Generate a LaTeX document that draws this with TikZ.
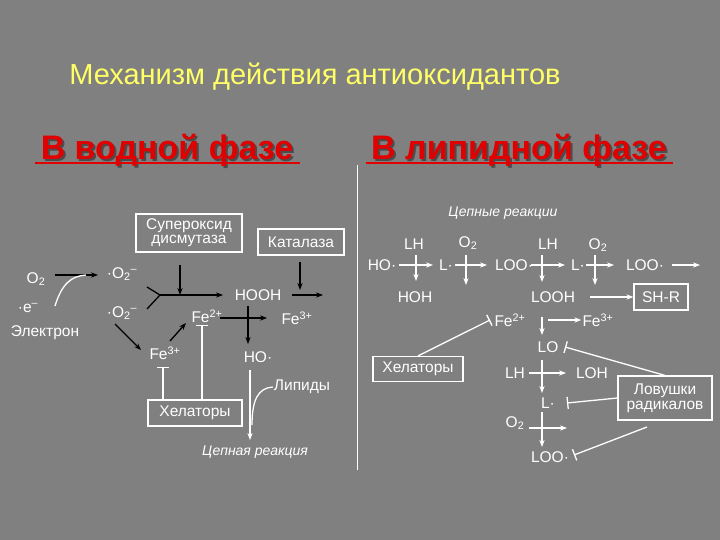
\documentclass[tikz,border=0pt]{standalone}
\usepackage{fontspec}
\setmainfont{Liberation Sans}
\usetikzlibrary{arrows.meta}
\definecolor{bg}{HTML}{808080}
\definecolor{ttl}{HTML}{FFFF66}
\definecolor{hdr}{HTML}{E00000}
\begin{document}
\begin{tikzpicture}[x=1pt,y=-1pt,
 lab/.style={text=white,font=\fontsize{15.5}{17}\selectfont,inner sep=1pt},
 box/.style={draw=white,line width=1.2pt,text=white,font=\fontsize{15.5}{17}\selectfont,align=center,inner sep=2pt},
 blk/.style={black,line width=1.3pt,-{Stealth[length=7pt]}},
 wht/.style={white,line width=1.3pt,-{Stealth[length=7pt]}},
 wl/.style={white,line width=1.3pt},
 bar/.style={white,line width=1.3pt,{Bar[width=12pt]}-},
 hd/.style={font=\bfseries\fontsize{34}{36}\selectfont,inner sep=0pt}]
\fill[bg] (0,0) rectangle (720,540);
\useasboundingbox (0,0) rectangle (720,540);
\node[text=ttl,font=\fontsize{29}{31}\selectfont] (title) at (315,77) {Механизм действия антиоксидантов};
\node[hd,text=black!70] at (169,152) {В водной фазе};
\node[hd,text=hdr] (h1) at (167,150) {В водной фазе};
\draw[hdr,line width=1.5pt] (35,163) -- (300,163);
\node[hd,text=black!70] at (521,152) {В липидной фазе};
\node[hd,text=hdr] (h2) at (519,150) {В липидной фазе};
\draw[hdr,line width=1.5pt] (366,163) -- (673,163);
\coordinate (v1) at (357,165); \coordinate (v2) at (357,470);
\draw[white,line width=1pt] (v1) -- (v2);
% left
\node[box,minimum width=106pt,minimum height=38pt] (sod) at (189,233) {Супероксид\\[-3pt]дисмутаза};
\node[box,minimum width=86pt,minimum height=26pt] (cat) at (301,242) {Каталаза};
\node[lab] (o2) at (36,279) {O\textsubscript{2}};
\node[lab] (e) at (28,308) {·e\textsuperscript{–}};
\node[lab] (el) at (45,333) {Электрон};
\node[lab] (s1) at (122,274) {·O\textsubscript{2}\textsuperscript{–}};
\node[lab] (s2) at (122,313) {·O\textsubscript{2}\textsuperscript{–}};
\node[lab] (hooh) at (258,295) {HOOH};
\node[lab] (fe2) at (207,316) {Fe\textsuperscript{2+}};
\node[lab] (fe3r) at (297,318) {Fe\textsuperscript{3+}};
\node[lab] (fe3) at (165,353) {Fe\textsuperscript{3+}};
\node[lab] (ho) at (258,357) {HO·};
\node[lab] (lip) at (302,387) {Липиды};
\node[box,minimum width=94pt,minimum height=26pt] (hel1) at (195,413) {Хелаторы};
\node[lab,font=\itshape\fontsize{14}{16}\selectfont] (cr) at (255,452) {Цепная реакция};
\draw[blk] (55,275) -- (98,275);
\draw[white,line width=1.3pt] (55,306) .. controls (62,283) and (72,276) .. (86,275);
\coordinate (fk) at (160,295);
\draw[black,line width=1.3pt] (147,287) -- (fk) -- (147,309);
\draw[blk] (fk) -- (223,295);
\draw[blk] (180,265) -- (180,295);
\draw[blk] (300,262) -- (300,290);
\draw[blk] (292,295) -- (323,295);
\draw[blk] (220,318) -- (267,318);
\draw[blk] (248,306) -- (248,344);
\draw[blk] (115,324) -- (141,350);
\draw[blk] (170,341) -- (186,323);
\draw[bar] (163,367) -- (163,400);
\draw[bar] (202,325) -- (202,400);
\draw[wht] (250,370) -- (250,440);
\draw[wl] (lip.west) .. controls (258,388) and (252,400) .. (252,425);
% right
\node[lab,font=\itshape\fontsize{14}{16}\selectfont] (cer) at (503,213) {Цепные реакции};
\node[lab] (r1) at (382,265) {HO·};
\node[lab] (r2) at (446,265) {L·};
\node[lab] (r3) at (514,265) {LOO·};
\node[lab] (r4) at (578,265) {L·};
\node[lab] (r5) at (645,265) {LOO·};
\coordinate (r6) at (700,265);
\node[lab] (lh1) at (414,244) {LH};
\node[lab] (hoh) at (415,297) {HOH};
\node[lab] (ox1) at (468,243) {O\textsubscript{2}};
\node[lab] (lh2) at (548,244) {LH};
\node[lab] (ox2) at (598,245) {O\textsubscript{2}};
\node[lab] (looh) at (553,297) {LOOH};
\node[box,minimum width=54pt,minimum height=26pt] (shr) at (661,297) {SH-R};
\node[lab] (rfe2) at (510,320) {Fe\textsuperscript{2+}};
\node[lab] (rfe3) at (598,320) {Fe\textsuperscript{3+}};
\node[box,minimum width=90pt,minimum height=25pt] (hel2) at (418,369) {Хелаторы};
\node[lab] (lo) at (548,347) {LO};
\node[lab] (lh3) at (515,373) {LH};
\node[lab] (loh) at (592,373) {LOH};
\node[lab] (ld) at (548,403) {L·};
\node[lab] (ox3) at (515,423) {O\textsubscript{2}};
\node[lab] (loo) at (550,457) {LOO·};
\node[box,minimum width=94pt,minimum height=44pt] (trap) at (665,398) {Ловушки\\[-2pt]радикалов};
\draw[wht] (399,265) -- (433,265);
\draw[wht] (455,265) -- (487,265);
\draw[wht] (531,265) -- (565,265);
\draw[wht] (586,265) -- (614,265);
\draw[wht] (672,265) -- (r6);
\draw[wht] (416,255) -- (416,281);
\draw[wht] (466,255) -- (466,285);
\draw[wht] (542,255) -- (542,282);
\draw[wht] (595,255) -- (595,285);
\draw[wht] (590,297) -- (shr.west);
\draw[wht] (542,317) -- (542,335);
\draw[wht] (548,320) -- (rfe3.west);
\draw[bar] (490,320) -- (hel2.north);
\draw[bar] (565,347) -- (trap.north);
\draw[wht] (529,373) -- (566,373);
\draw[wht] (542,360) -- (542,393);
\draw[bar] (567,403) -- (trap.west);
\draw[wht] (529,428) -- (567,428);
\draw[wht] (542,412) -- (542,447);
\draw[bar] (574,455) -- (647,427);
\end{tikzpicture}
\end{document}
